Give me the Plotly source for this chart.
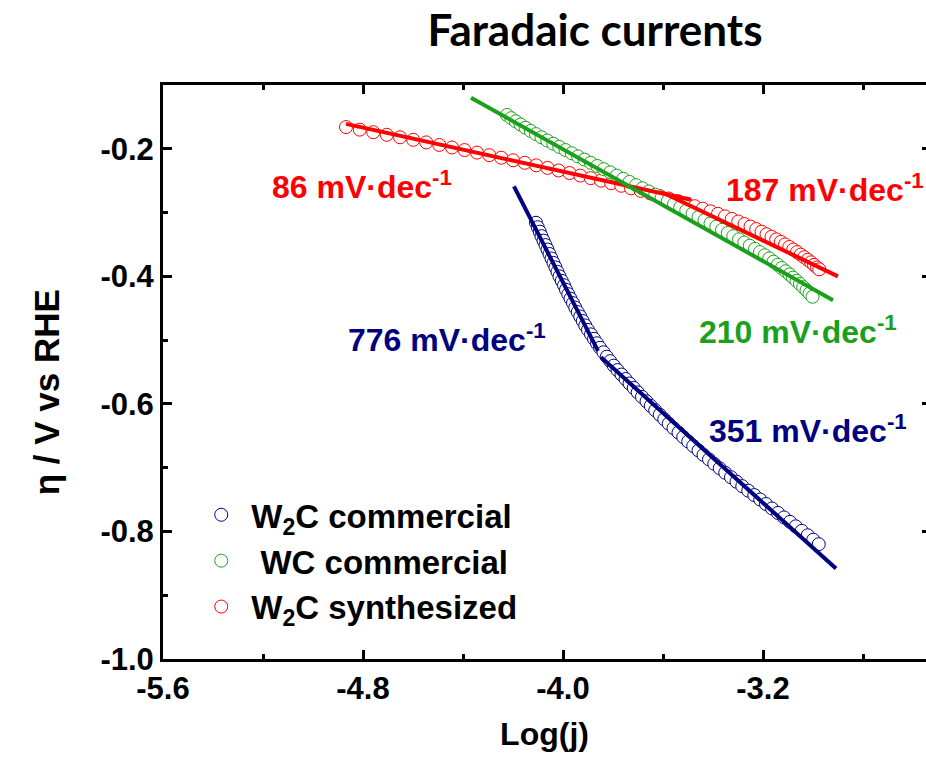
import plotly.graph_objects as go

# ---------------- data ----------------
series_names = ["W<sub>2</sub>C commercial", " WC commercial", "W<sub>2</sub>C synthesized"]

blue_y = [-0.316, -0.323, -0.330, -0.337, -0.344, -0.351, -0.358, -0.365, -0.372, -0.379,
          -0.386, -0.393, -0.400, -0.407, -0.414, -0.421, -0.428, -0.435, -0.442, -0.449,
          -0.456, -0.463, -0.470, -0.477, -0.484, -0.491, -0.498, -0.505, -0.512, -0.519,
          -0.526, -0.533, -0.540, -0.547, -0.554, -0.561, -0.568, -0.575, -0.582, -0.589,
          -0.596, -0.603, -0.610, -0.617, -0.624, -0.631, -0.638, -0.645, -0.652, -0.659,
          -0.666, -0.673, -0.680, -0.687, -0.694, -0.701, -0.708, -0.715, -0.722, -0.729,
          -0.736, -0.743, -0.750, -0.757, -0.764, -0.771, -0.778, -0.785, -0.792, -0.799,
          -0.806, -0.813, -0.820]
blue_x = [-4.108, -4.101, -4.093, -4.086, -4.078, -4.070, -4.062, -4.054, -4.046, -4.038,
          -4.030, -4.022, -4.014, -4.005, -3.996, -3.988, -3.979, -3.970, -3.960, -3.951,
          -3.941, -3.931, -3.921, -3.911, -3.900, -3.888, -3.876, -3.864, -3.852, -3.838,
          -3.825, -3.811, -3.797, -3.782, -3.766, -3.750, -3.734, -3.717, -3.701, -3.684,
          -3.666, -3.649, -3.631, -3.613, -3.595, -3.577, -3.558, -3.538, -3.519, -3.499,
          -3.479, -3.458, -3.438, -3.416, -3.395, -3.373, -3.351, -3.328, -3.306, -3.283,
          -3.259, -3.235, -3.211, -3.188, -3.164, -3.140, -3.116, -3.092, -3.069, -3.045,
          -3.021, -2.999, -2.977]

green_y = [-0.147, -0.152, -0.157, -0.162, -0.167, -0.172, -0.177, -0.182, -0.187, -0.192,
           -0.197, -0.202, -0.207, -0.212, -0.217, -0.222, -0.227, -0.232, -0.237, -0.242,
           -0.247, -0.252, -0.257, -0.262, -0.267, -0.272, -0.277, -0.282, -0.287, -0.292,
           -0.297, -0.302, -0.307, -0.312, -0.317, -0.322, -0.327, -0.332, -0.337, -0.342,
           -0.347, -0.352, -0.357, -0.362, -0.367, -0.372, -0.377, -0.382, -0.387, -0.392,
           -0.397, -0.402, -0.407, -0.412, -0.417, -0.422, -0.427, -0.432]
green_x = [-4.224, -4.207, -4.189, -4.170, -4.150, -4.129, -4.108, -4.086, -4.063, -4.039,
           -4.015, -3.990, -3.965, -3.940, -3.914, -3.889, -3.863, -3.837, -3.811, -3.785,
           -3.759, -3.734, -3.708, -3.682, -3.657, -3.631, -3.606, -3.581, -3.556, -3.531,
           -3.507, -3.482, -3.458, -3.434, -3.410, -3.387, -3.364, -3.341, -3.319, -3.296,
           -3.275, -3.253, -3.232, -3.212, -3.193, -3.175, -3.158, -3.141, -3.125, -3.109,
           -3.094, -3.080, -3.066, -3.052, -3.039, -3.026, -3.014, -3.002]

red_y = [-0.166, -0.170, -0.174, -0.178, -0.182, -0.186, -0.190, -0.194, -0.198, -0.202,
         -0.206, -0.210, -0.214, -0.218, -0.222, -0.226, -0.230, -0.234, -0.238, -0.242,
         -0.246, -0.250, -0.254, -0.258, -0.262, -0.266, -0.270, -0.274, -0.278, -0.282,
         -0.286, -0.290, -0.294, -0.298, -0.302, -0.306, -0.310, -0.314, -0.318, -0.322,
         -0.326, -0.330, -0.334, -0.338, -0.342, -0.346, -0.350, -0.354, -0.358, -0.362,
         -0.366, -0.370, -0.374, -0.378, -0.382, -0.386, -0.389]
red_x = [-4.868, -4.813, -4.759, -4.705, -4.652, -4.599, -4.547, -4.495, -4.444, -4.394,
         -4.344, -4.295, -4.247, -4.200, -4.153, -4.107, -4.062, -4.018, -3.974, -3.931,
         -3.889, -3.848, -3.807, -3.767, -3.728, -3.689, -3.651, -3.614, -3.577, -3.541,
         -3.506, -3.473, -3.441, -3.410, -3.380, -3.352, -3.325, -3.299, -3.274, -3.250,
         -3.227, -3.206, -3.186, -3.166, -3.147, -3.129, -3.112, -3.095, -3.079, -3.064,
         -3.049, -3.035, -3.021, -3.008, -2.996, -2.984, -2.975]

# Tafel fit lines (end points)
fit_red86_x = [-4.868, -3.488]
fit_red86_y = [-0.161, -0.280]
fit_red187_x = [-3.600, -2.900]
fit_red187_y = [-0.269, -0.400]
fit_green210_x = [-4.368, -2.920]
fit_green210_y = [-0.120, -0.4375]
fit_blue776_x = [-4.196, -3.860]
fit_blue776_y = [-0.259, -0.517]
fit_blue351_x = [-3.848, -2.908]
fit_blue351_y = [-0.527, -0.858]

slope_labels = ["86 mV·dec<sup>-1</sup>", "187 mV·dec<sup>-1</sup>", "210 mV·dec<sup>-1</sup>",
                "776 mV·dec<sup>-1</sup>", "351 mV·dec<sup>-1</sup>"]
label_x = [-5.172, -3.356, -3.464, -4.868, -3.424]
label_y = [-0.257, -0.262, -0.484, -0.496, -0.640]

x_tickvals = [-5.6, -4.8, -4.0, -3.2]
x_ticktext = ["-5.6", "-4.8", "-4.0", "-3.2"]
y_tickvals = [-1.0, -0.8, -0.6, -0.4, -0.2]
y_ticktext = ["-1.0", "-0.8", "-0.6", "-0.4", "-0.2"]

# ---------------- style ----------------
NAVY = "#000080"
GREEN = "#1AA01A"
RED = "#FF0000"
FONT = "Arial, Liberation Sans, sans-serif"

fig = go.Figure()

for name, xs, ys, col, rank in [
    (series_names[2], red_x, red_y, RED, 3),
    (series_names[1], green_x, green_y, GREEN, 2),
    (series_names[0], blue_x, blue_y, NAVY, 1),
]:
    fig.add_trace(go.Scatter(
        x=xs, y=ys, mode="markers", name=name, legendrank=rank, legendgroup=name,
        marker=dict(symbol="circle", size=13, color="white", line=dict(color=col, width=1)),
        cliponaxis=False,
    ))

for xs, ys, col in [
    (fit_red86_x, fit_red86_y, RED),
    (fit_red187_x, fit_red187_y, RED),
    (fit_green210_x, fit_green210_y, GREEN),
    (fit_blue776_x, fit_blue776_y, NAVY),
    (fit_blue351_x, fit_blue351_y, NAVY),
]:
    fig.add_trace(go.Scatter(x=xs, y=ys, mode="lines", showlegend=False,
                             line=dict(color=col, width=4), hoverinfo="skip"))

label_colors = [RED, RED, GREEN, NAVY, NAVY]
for txt, lx, ly, c in zip(slope_labels, label_x, label_y, label_colors):
    fig.add_annotation(x=lx, y=ly, xref="x", yref="y", text=txt, showarrow=False,
                       xanchor="left", yanchor="middle",
                       font=dict(family=FONT, size=32, color=c, weight="bold"))

# y-axis title
fig.add_annotation(x=-0.153, y=0.465, xref="paper", yref="paper", text="η / V vs RHE",
                   textangle=-90, showarrow=False, xanchor="center", yanchor="middle",
                   font=dict(family=FONT, size=35, color="black", weight="bold"))

# right-side tick marks (the right axis line itself lies outside the picture)
fig.add_trace(go.Scatter(x=[None], y=[None], yaxis="y2", showlegend=False))

fig.update_layout(
    width=926, height=770,
    margin=dict(l=163, r=0, t=85, b=111),
    paper_bgcolor="white", plot_bgcolor="white",
    font=dict(family=FONT, color="black"),
    title=dict(text="Faradaic currents", x=595 / 926, xref="container", xanchor="center",
               y=1 - 31 / 770, yref="container", yanchor="middle",
               font=dict(family="Lato, sans-serif", size=44, color="black", weight="bold")),
    showlegend=True,
    legend=dict(x=0.037, y=0.30, xanchor="left", yanchor="top", itemwidth=50,
                bgcolor="rgba(0,0,0,0)", tracegroupgap=0,
                font=dict(family=FONT, size=33, color="black", weight="bold")),
    xaxis=dict(
        range=[-5.6, -2.548], tickmode="array", tickvals=x_tickvals, ticktext=x_ticktext,
        ticks="inside", ticklen=9, tickwidth=3, tickcolor="black",
        minor=dict(ticks="inside", ticklen=5, tickwidth=3, dtick=0.4, tick0=-5.6, tickcolor="black"),
        showline=True, linewidth=3, linecolor="black", mirror="ticks",
        showgrid=False, zeroline=False,
        tickfont=dict(family=FONT, size=31, weight="bold"),
        title=dict(text="Log(j)", font=dict(family=FONT, size=32, weight="bold"), standoff=18),
    ),
    yaxis=dict(
        range=[-1.0, -0.1], tickmode="array", tickvals=y_tickvals, ticktext=y_ticktext,
        ticks="inside", ticklen=9, tickwidth=3, tickcolor="black",
        minor=dict(ticks="inside", ticklen=5, tickwidth=3, dtick=0.1, tick0=-1.0, tickcolor="black"),
        showline=True, linewidth=3, linecolor="black", mirror=False,
        showgrid=False, zeroline=False,
        tickfont=dict(family=FONT, size=31, weight="bold"),
    ),
    yaxis2=dict(
        range=[-1.0, -0.1], overlaying="y", side="right", tickmode="array",
        tickvals=y_tickvals, showticklabels=False, ticks="inside", ticklen=4,
        tickwidth=3, tickcolor="black", showline=False, showgrid=False, zeroline=False,
    ),
)

# remove the page's default body margin and scrollbars so the figure fills the window
page_fix = ("document.documentElement.style.overflow='hidden';"
            "document.body.style.margin='0px';document.body.style.overflow='hidden';")
fig.write_html("out.html", post_script=page_fix, config={"displayModeBar": False})
